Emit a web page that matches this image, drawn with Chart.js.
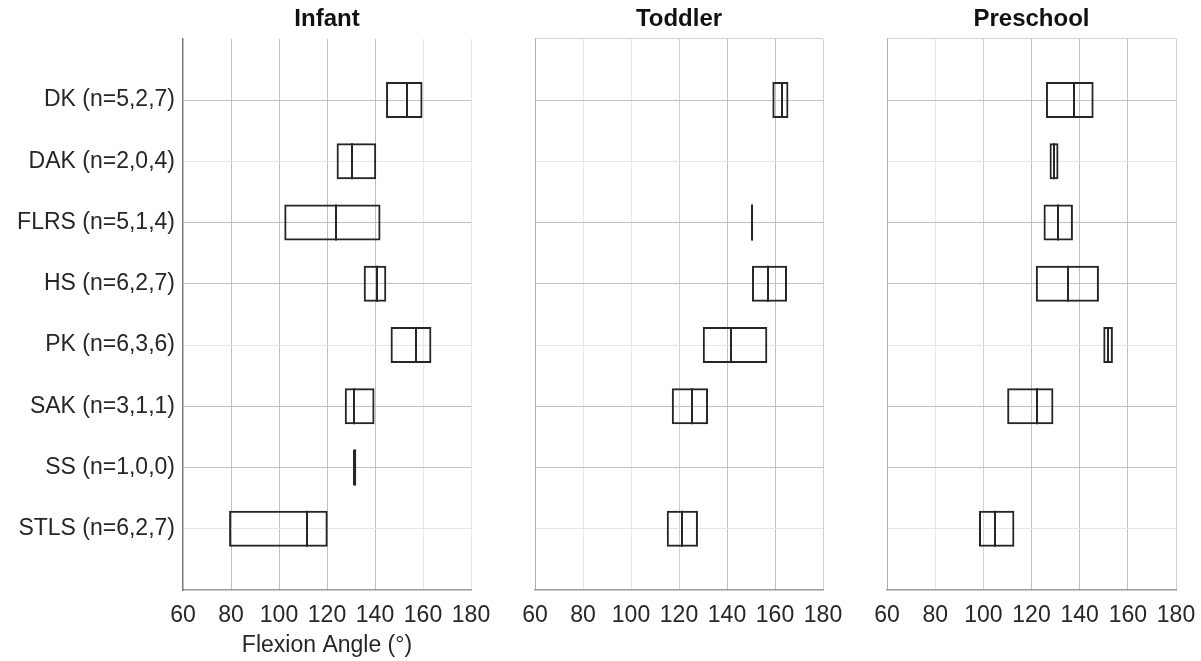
<!DOCTYPE html>
<html>
<head>
<meta charset="utf-8">
<script src="https://cdn.jsdelivr.net/npm/chart.js@4.4.1/dist/chart.umd.min.js"></script>
<style>
  body { margin: 0; background: #fff; overflow: hidden; width: 1201px; height: 661px; position: relative; }
  canvas { position: absolute; top: 0; }
</style>
</head>
<body>
<canvas id="infant" width="501" height="661" style="left:0px"></canvas>
<canvas id="toddler" width="348" height="661" style="left:505px"></canvas>
<canvas id="preschool" width="344" height="661" style="left:857px"></canvas>
<script>
// row labels, top to bottom
var categories = ['DK (n=5,2,7)', 'DAK (n=2,0,4)', 'FLRS (n=5,1,4)', 'HS (n=6,2,7)',
                  'PK (n=6,3,6)', 'SAK (n=3,1,1)', 'SS (n=1,0,0)', 'STLS (n=6,2,7)'];

// box edges and medians (degrees), null = no data for that group
var infantMin = [144.6, 124.0, 102.2, 135.3, 146.5, 127.4, 130.8, 79.2];
var infantMed = [153.3, 130.4, 123.6, 140.8, 157.2, 131.4, 131.5, 111.8];
var infantMax = [159.8, 140.5, 142.3, 144.7, 163.5, 139.8, 132.2, 120.3];

var toddlerMin = [158.9, null, 150.2, 150.4, 129.9, 117.0, null, 114.9];
var toddlerMed = [163.0, null, 150.5, 157.0, 141.8, 125.6, null, 121.4];
var toddlerMax = [165.6, null, 150.9, 165.0, 156.8, 132.1, null, 127.9];

var preschoolMin = [126.0, 127.5, 125.0, 121.8, 149.8, 109.9, null, 98.2];
var preschoolMed = [137.6, 129.3, 131.0, 135.1, 151.6, 122.2, null, 105.0];
var preschoolMax = [145.8, 131.2, 137.2, 148.0, 153.8, 129.1, null, 112.9];

var xMin = 60, xMax = 180, xStep = 20;

var FONT = "'Liberation Sans', Arial, sans-serif";
var TEXT = '#262626';
var shade = { d: '#c0c0c0', m: '#d0d0d0', l: '#e6e6e6', x: 'rgba(0,0,0,0)' };

// horizontal grid lines, by row value 0..9 (0 = top edge, 9 = bottom edge)
var rowShade = ['d', 'd', 'l', 'd', 'd', 'l', 'd', 'd', 'l', 'x'];

// draws the median line inside each box
var medianPlugin = {
  id: 'medians',
  afterDatasetsDraw: function(chart) {
    var meta = chart.getDatasetMeta(0);
    var meds = chart.data.datasets[0].medians;
    var ctx = chart.ctx;
    ctx.save();
    ctx.strokeStyle = '#262626';
    ctx.lineWidth = 2;
    meta.data.forEach(function(bar, i) {
      var x = Math.round(chart.scales.x.getPixelForValue(meds[i]));
      ctx.beginPath();
      ctx.moveTo(x, bar.y - bar.height / 2);
      ctx.lineTo(x, bar.y + bar.height / 2);
      ctx.stroke();
    });
    ctx.restore();
  }
};

function tickValue(c) {
  return (c && c.tick && c.tick.value !== undefined) ? c.tick.value : null;
}

function makePanel(id, title, mins, meds, maxs, opts) {
  var points = [];
  var medians = [];
  for (var i = 0; i < categories.length; i++) {
    if (mins[i] === null) continue;
    points.push({ x: [mins[i], maxs[i]], y: i + 1 });
    medians.push(meds[i]);
  }

  return new Chart(document.getElementById(id), {
    type: 'bar',
    data: {
      datasets: [{
        data: points,
        medians: medians,
        backgroundColor: 'rgba(0,0,0,0)',
        borderColor: '#262626',
        borderWidth: 2,
        borderSkipped: false,
        barPercentage: 0.59,
        categoryPercentage: 1
      }]
    },
    options: {
      indexAxis: 'y',
      responsive: false,
      animation: false,
      layout: { padding: { left: opts.padLeft, right: opts.padRight, top: 0, bottom: 0 } },
      plugins: {
        legend: { display: false },
        tooltip: { enabled: false },
        title: {
          display: true,
          text: title,
          fullSize: false,
          color: '#111',
          font: { family: FONT, size: 24, weight: 'bold' },
          padding: { top: 5, bottom: 5 }
        }
      },
      scales: {
        x: {
          type: 'linear',
          min: xMin,
          max: xMax,
          ticks: {
            stepSize: xStep,
            color: TEXT,
            padding: 12,
            maxRotation: 0,
            font: { family: FONT, size: 23 }
          },
          grid: {
            drawTicks: false,
            color: function(c) {
              var v = tickValue(c);
              return v === null ? shade.x : shade[opts.colShade[v] || 'x'];
            },
            lineWidth: 1
          },
          border: { color: '#999', width: 1.5 },
          title: {
            display: opts.xTitle,
            text: 'Flexion Angle (°)',
            color: TEXT,
            font: { family: FONT, size: 23 },
            padding: { top: 0, bottom: 2 }
          },
          afterFit: function(scale) {
            scale.height = 71;
            scale.paddingLeft = 0;
            scale.paddingRight = 0;
          }
        },
        y: {
          type: 'linear',
          min: 0,
          max: 9,
          reverse: true,
          offset: false,
          ticks: {
            display: opts.yLabels,
            stepSize: 1,
            autoSkip: false,
            color: TEXT,
            padding: 8,
            font: { family: FONT, size: 23 },
            callback: function(v) { return categories[v - 1] || ''; }
          },
          grid: {
            offset: false,
            drawTicks: false,
            color: function(c) {
              var v = tickValue(c);
              if (v === null) return shade.x;
              if (v === 0) return opts.topLine ? shade.m : shade.x;
              return shade[rowShade[v] || 'x'];
            },
            lineWidth: 1
          },
          border: { color: opts.leftColor, width: opts.leftWidth },
          afterFit: function(scale) {
            scale.width = opts.yWidth;
            scale.paddingTop = 0;
            scale.paddingBottom = 0;
          }
        }
      }
    },
    plugins: [medianPlugin]
  });
}

makePanel('infant', 'Infant', infantMin, infantMed, infantMax, {
  padLeft: 0, padRight: 30, yWidth: 183, yLabels: true, xTitle: true,
  topLine: false, leftColor: '#7a7a7a', leftWidth: 1.5,
  colShade: { 60: 'x', 80: 'd', 100: 'd', 120: 'd', 140: 'd', 160: 'l', 180: 'l' }
});

makePanel('toddler', 'Toddler', toddlerMin, toddlerMed, toddlerMax, {
  padLeft: 30, padRight: 30, yWidth: 0, yLabels: false, xTitle: false,
  topLine: true, leftColor: '#b0b0b0', leftWidth: 1,
  colShade: { 60: 'x', 80: 'l', 100: 'l', 120: 'm', 140: 'd', 160: 'd', 180: 'm' }
});

makePanel('preschool', 'Preschool', preschoolMin, preschoolMed, preschoolMax, {
  padLeft: 30, padRight: 25, yWidth: 0, yLabels: false, xTitle: false,
  topLine: true, leftColor: '#b0b0b0', leftWidth: 1,
  colShade: { 60: 'x', 80: 'l', 100: 'm', 120: 'd', 140: 'd', 160: 'd', 180: 'm' }
});
</script>
</body>
</html>
